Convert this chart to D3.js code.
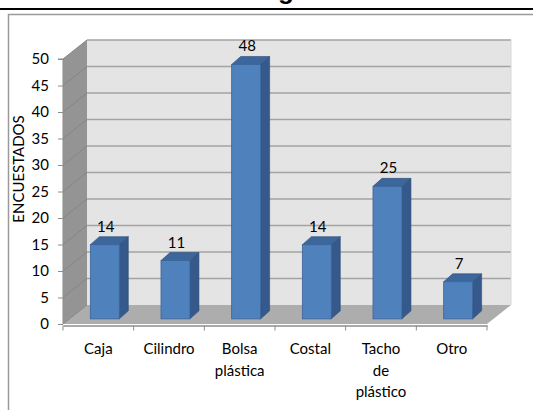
<!DOCTYPE html>
<html>
<head>
<meta charset="utf-8">
<script src="https://cdn.jsdelivr.net/npm/d3@7/dist/d3.min.js"></script>
<style>
  html, body { margin: 0; padding: 0; background: #fff; }
  svg { display: block; }
</style>
</head>
<body>
<svg id="chart" width="533" height="410"></svg>
<script>
// Recipientes usados por los encuestados
const categories = ["Caja", "Cilindro", "Bolsa plástica", "Costal", "Tacho de plástico", "Otro"];
const categoryLines = [["Caja"], ["Cilindro"], ["Bolsa", "plástica"], ["Costal"], ["Tacho", "de", "plástico"], ["Otro"]];
const values = [14, 11, 48, 14, 25, 7];
const yTicks = [0, 5, 10, 15, 20, 25, 30, 35, 40, 45, 50];
const yTitle = "ENCUESTADOS";
const titleFragment = "g";

const svg = d3.select("#chart");
const font = "Lato, 'Open Sans', sans-serif";

// page rule and chart frame
svg.append("text").attr("x", 286).attr("y", -1).attr("text-anchor", "middle")
  .attr("font-family", "Arial, 'Liberation Sans', sans-serif").attr("font-weight", "bold")
  .attr("font-size", 26).attr("fill", "#000").text(titleFragment);
svg.append("line").attr("x1", 0).attr("x2", 533).attr("y1", 9).attr("y2", 9)
  .attr("stroke", "#000").attr("stroke-width", 2);
svg.append("rect").attr("x", 8.5).attr("y", 14.5).attr("width", 540).attr("height", 420)
  .attr("fill", "#fff").attr("stroke", "#9a9a9a").attr("stroke-width", 1.5);

// 3D geometry
const DX = 24, DY = 19;               // full depth offset of the walls
const x = d3.scaleBand().domain(categories).range([63, 487]);
const y = d3.scaleLinear().domain([0, 50]).range([324, 59]);
const shift = (t) => [t * DX, -t * DY];

const x0 = x.range()[0], x1 = x.range()[1];
const y0 = y(0), yTop = y(50);

// back wall
svg.append("polygon")
  .attr("points", [[x0 + DX, yTop - DY], [x1 + DX, yTop - DY], [x1 + DX, y0 - DY], [x0 + DX, y0 - DY]].join(" "))
  .attr("fill", "#e4e4e4");
// side wall
svg.append("polygon")
  .attr("points", [[x0, yTop], [x0 + DX, yTop - DY], [x0 + DX, y0 - DY], [x0, y0]].join(" "))
  .attr("fill", "#949494");
// floor
svg.append("polygon")
  .attr("points", [[x0, y0], [x0 + DX, y0 - DY], [x1 + DX, y0 - DY], [x1, y0]].join(" "))
  .attr("fill", "#adadad");

// gridlines on back and side walls
yTicks.forEach(v => {
  const yy = y(v);
  if (v > 0) {
    svg.append("line").attr("x1", x0 + DX).attr("x2", x1 + DX)
      .attr("y1", yy - DY).attr("y2", yy - DY)
      .attr("stroke", "#a3a3a3").attr("stroke-width", 1.5);
  }
  svg.append("line").attr("x1", x0).attr("x2", x0 + DX)
    .attr("y1", yy).attr("y2", yy - DY)
    .attr("stroke", "#858585").attr("stroke-width", 1);
});
svg.append("line").attr("x1", x1 + DX).attr("x2", x1 + DX)
  .attr("y1", yTop - DY).attr("y2", y0 - DY).attr("stroke", "#d8d8d8").attr("stroke-width", 1);

// axes
const yAxis = d3.axisLeft(y).tickValues(yTicks).tickSize(5).tickPadding(9);
const gy = svg.append("g").attr("transform", `translate(${x0},0)`).call(yAxis);
gy.select(".domain").attr("stroke", "#8c8c8c").attr("d", `M-5,${yTop}H0V${y0}`);
gy.selectAll(".tick line").attr("stroke", "#8c8c8c");
gy.selectAll(".tick text").attr("font-family", font).attr("font-size", 15).attr("fill", "#000");

const xAxis = d3.axisBottom(x).tickSize(0).tickFormat("");
const gx = svg.append("g").attr("transform", `translate(0,${y0 + 1.5})`).call(xAxis);
gx.select(".domain").attr("stroke", "#8c8c8c").attr("stroke-width", 1.5);
const boundaries = categories.map(c => x(c)).concat([x1]);
gx.selectAll(".bound").data(boundaries).join("line")
  .attr("x1", d => d).attr("x2", d => d).attr("y1", 0).attr("y2", 5)
  .attr("stroke", "#8c8c8c");

// category labels (multi-line)
categoryLines.forEach((lines, i) => {
  const cx = x(categories[i]) + x.bandwidth() / 2;
  const t = svg.append("text").attr("text-anchor", "middle")
    .attr("font-family", font).attr("font-size", 15).attr("fill", "#000");
  lines.forEach((ln, j) => {
    t.append("tspan").attr("x", cx).attr("y", 354 + j * 21.5).text(ln);
  });
});

// y-axis title
svg.append("text").attr("transform", `translate(24,169) rotate(-90)`)
  .attr("text-anchor", "middle").attr("font-family", font).attr("font-size", 15)
  .attr("fill", "#000").text(yTitle);

// 3D bars
const barT = 0.27;        // depth position of the bar front face
const barDepth = [9, 8];  // side/top extrusion
const barW = x.bandwidth() * 0.41;
const bars = svg.append("g");
categories.forEach((c, i) => {
  const v = values[i];
  const [sx, sy] = shift(barT);
  const left = x(c) + (x.bandwidth() - barW) / 2 + sx;
  const right = left + barW;
  const top = y(v) + sy;
  const bottom = y(0) + sy;
  const [ddx, ddy] = barDepth;
  // side face
  bars.append("polygon")
    .attr("points", [[right, top], [right + ddx, top - ddy], [right + ddx, bottom - ddy], [right, bottom]].join(" "))
    .attr("fill", "#34598a").attr("stroke", "#2c4d77").attr("stroke-width", 0.6);
  // top face
  bars.append("polygon")
    .attr("points", [[left, top], [left + ddx, top - ddy], [right + ddx, top - ddy], [right, top]].join(" "))
    .attr("fill", "#3b679c").attr("stroke", "#2c4d77").attr("stroke-width", 0.6);
  // front face
  bars.append("rect").attr("x", left).attr("y", top).attr("width", barW).attr("height", bottom - top)
    .attr("fill", "#4f81bd").attr("stroke", "#3a639a").attr("stroke-width", 0.8);
  // value label
  bars.append("text").attr("x", left + barW / 2 + 1).attr("y", top - ddy - 5)
    .attr("text-anchor", "middle").attr("font-family", font).attr("font-size", 15)
    .attr("fill", "#000").text(v);
});
</script>
</body>
</html>
